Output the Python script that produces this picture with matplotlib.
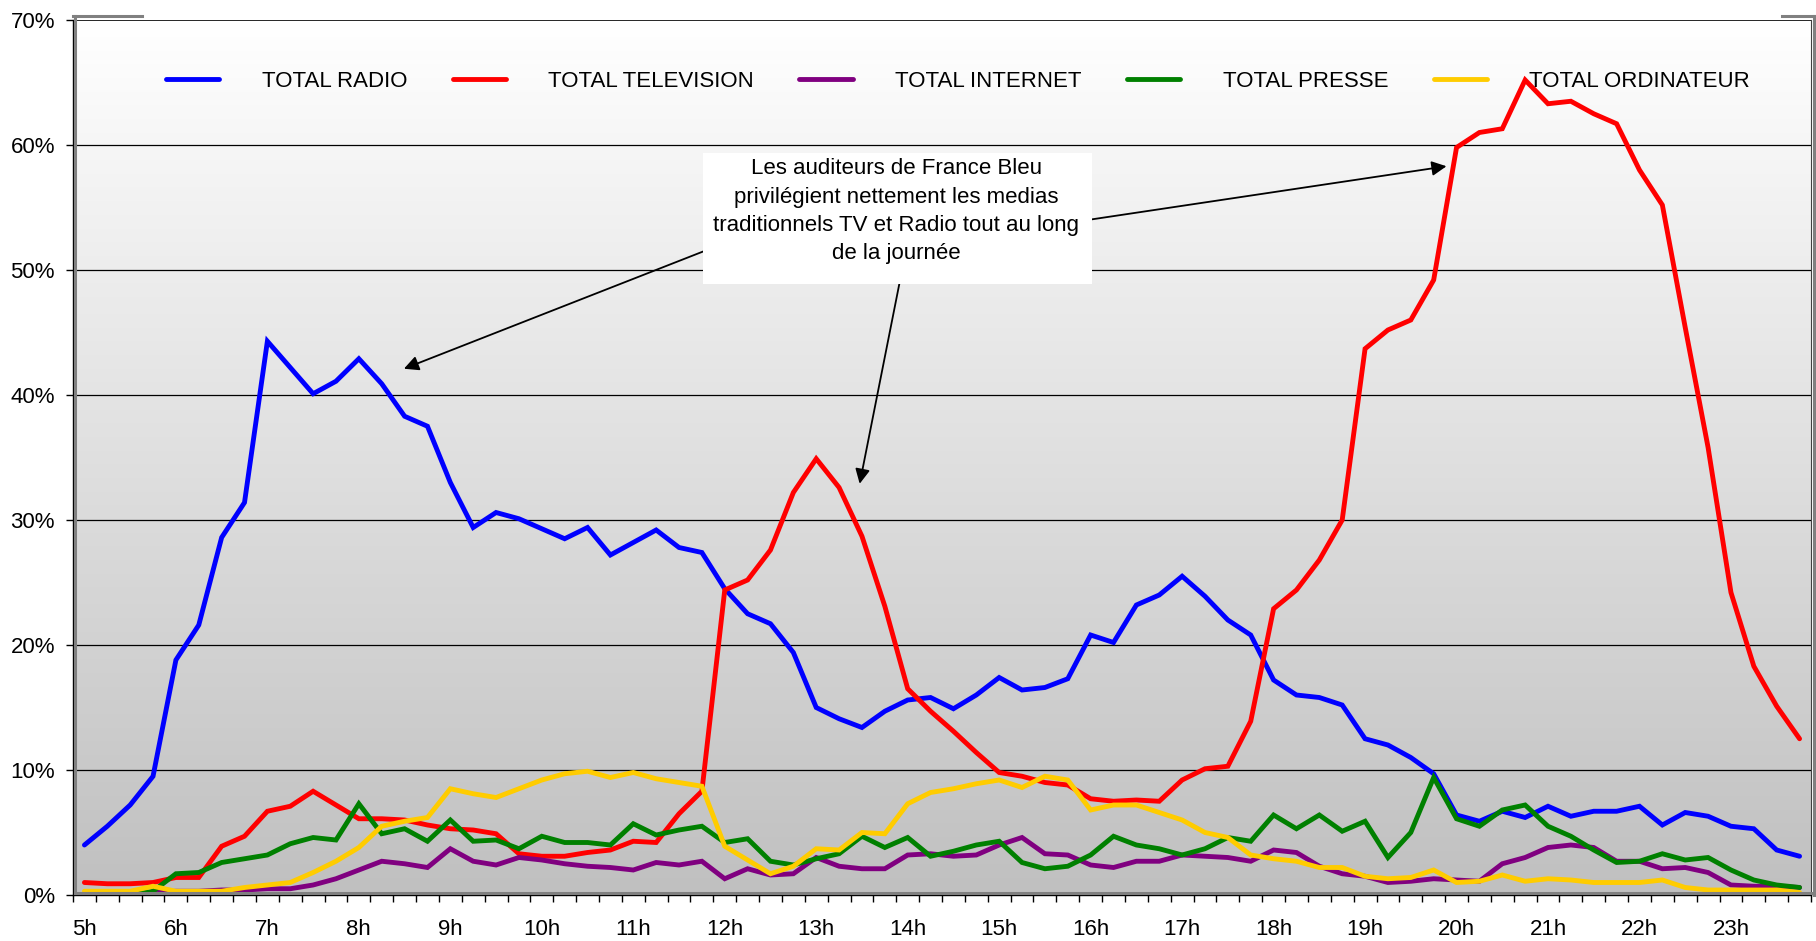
import matplotlib.pyplot as plt
import numpy as np
from matplotlib.colors import LinearSegmentedColormap
from matplotlib.lines import Line2D
from matplotlib.patches import Rectangle

plt.rcParams['font.family'] = ['Liberation Sans', 'DejaVu Sans']

# 15-minute slots from 5h00 to 23h45
hours = [f"{h}h" for h in range(5, 24)]

radio = [4.0, 5.5, 7.2, 9.5, 18.8, 21.6, 28.6, 31.4, 44.3, 42.2,
         40.1, 41.1, 42.9, 40.9, 38.3, 37.5, 33.0, 29.4, 30.6, 30.1,
         29.3, 28.5, 29.4, 27.2, 28.2, 29.2, 27.8, 27.4, 24.5, 22.5,
         21.7, 19.4, 15.0, 14.1, 13.4, 14.7, 15.6, 15.8, 14.9, 16.0,
         17.4, 16.4, 16.6, 17.3, 20.8, 20.2, 23.2, 24.0, 25.5, 23.9,
         22.0, 20.8, 17.2, 16.0, 15.8, 15.2, 12.5, 12.0, 11.0, 9.7,
         6.4, 5.9, 6.7, 6.2, 7.1, 6.3, 6.7, 6.7, 7.1, 5.6,
         6.6, 6.3, 5.5, 5.3, 3.6, 3.1]

television = [1.0, 0.9, 0.9, 1.0, 1.4, 1.4, 3.9, 4.7, 6.7, 7.1,
              8.3, 7.2, 6.1, 6.1, 6.0, 5.6, 5.3, 5.2, 4.9, 3.3,
              3.1, 3.1, 3.4, 3.6, 4.3, 4.2, 6.5, 8.3, 24.4, 25.2,
              27.6, 32.2, 34.9, 32.6, 28.7, 23.1, 16.5, 14.7, 13.1, 11.4,
              9.8, 9.5, 9.0, 8.8, 7.7, 7.5, 7.6, 7.5, 9.2, 10.1,
              10.3, 13.9, 22.9, 24.4, 26.8, 30.0, 43.7, 45.2, 46.0, 49.2,
              59.8, 61.0, 61.3, 65.2, 63.3, 63.5, 62.5, 61.7, 58.0, 55.2,
              45.4, 35.8, 24.2, 18.3, 15.1, 12.5]

internet = [0.1, 0.1, 0.1, 0.2, 0.3, 0.3, 0.4, 0.4, 0.5, 0.5,
            0.8, 1.3, 2.0, 2.7, 2.5, 2.2, 3.7, 2.7, 2.4, 3.0,
            2.8, 2.5, 2.3, 2.2, 2.0, 2.6, 2.4, 2.7, 1.3, 2.1,
            1.6, 1.7, 3.0, 2.3, 2.1, 2.1, 3.2, 3.3, 3.1, 3.2,
            4.0, 4.6, 3.3, 3.2, 2.4, 2.2, 2.7, 2.7, 3.2, 3.1,
            3.0, 2.7, 3.6, 3.4, 2.3, 1.7, 1.5, 1.0, 1.1, 1.3,
            1.2, 1.1, 2.5, 3.0, 3.8, 4.0, 3.8, 2.7, 2.7, 2.1,
            2.2, 1.8, 0.8, 0.7, 0.7, 0.6]

presse = [0.0, 0.0, 0.0, 0.3, 1.7, 1.8, 2.6, 2.9, 3.2, 4.1,
          4.6, 4.4, 7.3, 4.9, 5.3, 4.3, 6.0, 4.3, 4.4, 3.7,
          4.7, 4.2, 4.2, 4.0, 5.7, 4.8, 5.2, 5.5, 4.2, 4.5,
          2.7, 2.4, 2.9, 3.3, 4.7, 3.8, 4.6, 3.1, 3.5, 4.0,
          4.3, 2.6, 2.1, 2.3, 3.2, 4.7, 4.0, 3.7, 3.2, 3.7,
          4.6, 4.3, 6.4, 5.3, 6.4, 5.1, 5.9, 3.0, 5.0, 9.4,
          6.1, 5.5, 6.8, 7.2, 5.5, 4.7, 3.6, 2.6, 2.7, 3.3,
          2.8, 3.0, 2.0, 1.2, 0.8, 0.6]

ordinateur = [0.3, 0.3, 0.3, 0.7, 0.3, 0.3, 0.3, 0.6, 0.8, 1.0,
              1.8, 2.7, 3.8, 5.5, 5.9, 6.2, 8.5, 8.1, 7.8, 8.5,
              9.2, 9.7, 9.9, 9.4, 9.8, 9.3, 9.0, 8.7, 3.9, 2.8,
              1.7, 2.3, 3.7, 3.6, 5.0, 4.9, 7.3, 8.2, 8.5, 8.9,
              9.2, 8.6, 9.5, 9.2, 6.8, 7.2, 7.2, 6.6, 6.0, 5.0,
              4.6, 3.2, 2.9, 2.7, 2.2, 2.2, 1.5, 1.3, 1.4, 2.0,
              1.0, 1.1, 1.6, 1.1, 1.3, 1.2, 1.0, 1.0, 1.0, 1.2,
              0.6, 0.4, 0.4, 0.4, 0.4, 0.2]

series = [("TOTAL RADIO", radio, "#0000ff"),
          ("TOTAL TELEVISION", television, "#ff0000"),
          ("TOTAL INTERNET", internet, "#800080"),
          ("TOTAL PRESSE", presse, "#008000"),
          ("TOTAL ORDINATEUR", ordinateur, "#ffcc00")]

note = ("Les auditeurs de France Bleu\n"
        "privilégient nettement les medias\n"
        "traditionnels TV et Radio tout au long\n"
        "de la journée")

W, H = 1816, 941
fig = plt.figure(figsize=(W / 100, H / 100), dpi=100)
ax = fig.add_axes([73 / W, 1 - 895 / H, (1811 - 73) / W, (895 - 20) / H])

n = len(radio)
x = np.arange(n)

# gradient wall
cmap = LinearSegmentedColormap.from_list("wall", ["#c0c0c0", "#ffffff"])
ax.imshow(np.linspace(0, 1, 256).reshape(-1, 1), cmap=cmap, aspect="auto",
          extent=(-0.5, n - 0.5, 0, 70), origin="lower", zorder=0)

for v in range(10, 70, 10):
    ax.axhline(v, color="black", lw=0.9, zorder=1)
ax.axhline(70, color="black", lw=1.2, zorder=1)

for label, vals, col in series:
    ax.plot(x, vals, color=col, lw=3.5, label=label, zorder=3,
            solid_capstyle="round", solid_joinstyle="miter")

ax.set_xlim(-0.5, n - 0.5)
ax.set_ylim(0, 70)

ax.set_xticks(np.arange(0, n, 4))
ax.set_xticklabels(hours)
ax.set_xticks(np.arange(-0.5, n, 1), minor=True)
ax.tick_params(axis="x", which="major", length=0, pad=17, labelsize=16)
ax.tick_params(axis="x", which="minor", length=5, width=1, direction="out")
ax.set_yticks(range(0, 71, 10))
ax.set_yticklabels([f"{v}%" for v in range(0, 71, 10)])
ax.tick_params(axis="y", length=5, width=1, pad=8, labelsize=16)

ax.spines["top"].set_visible(False)
ax.spines["right"].set_color("#404040")
ax.spines["left"].set_linewidth(1)
ax.spines["bottom"].set_linewidth(1)

# grey wall edges like the original
def px(xp, yp):
    return xp / W, 1 - yp / H

grey = "#808080"
for (x0, y0), (x1, y1) in [((75, 16), (75, 893)), ((75, 893), (1812, 893)),
                           ((73, 16), (142, 16)), ((1782, 16), (1814, 16)),
                           ((1814, 16), (1814, 895))]:
    a, b = px(x0, y0)
    c, d = px(x1, y1)
    fig.add_artist(Line2D([a, c], [b, d], color=grey, lw=2.2))

leg = ax.legend(loc="upper left", bbox_to_anchor=px(166, 71), bbox_transform=fig.transFigure,
                ncol=5, frameon=False, fontsize=16, handlelength=2.4, handletextpad=1.9,
                columnspacing=2.05, borderpad=0, borderaxespad=0)

# callout box and arrows
ax.add_patch(Rectangle((27.03, 48.9), 17.03, 10.5, facecolor="white", edgecolor="none", zorder=6))
ax.text(35.5, 54.7, note, ha="center", va="center", fontsize=16, linespacing=1.45, zorder=7)
arrows = [((27.5, 51.8), (13.97, 42.1)),
          ((35.7, 49.5), (33.9, 32.9)),
          ((43.5, 53.9), (59.56, 58.3))]
for tail, head in arrows:
    ax.annotate("", xy=head, xytext=tail,
                arrowprops=dict(arrowstyle="-|>", color="black", lw=1.3,
                                mutation_scale=22, shrinkA=0, shrinkB=0),
                zorder=5)

fig.savefig("out.png", dpi=100)
